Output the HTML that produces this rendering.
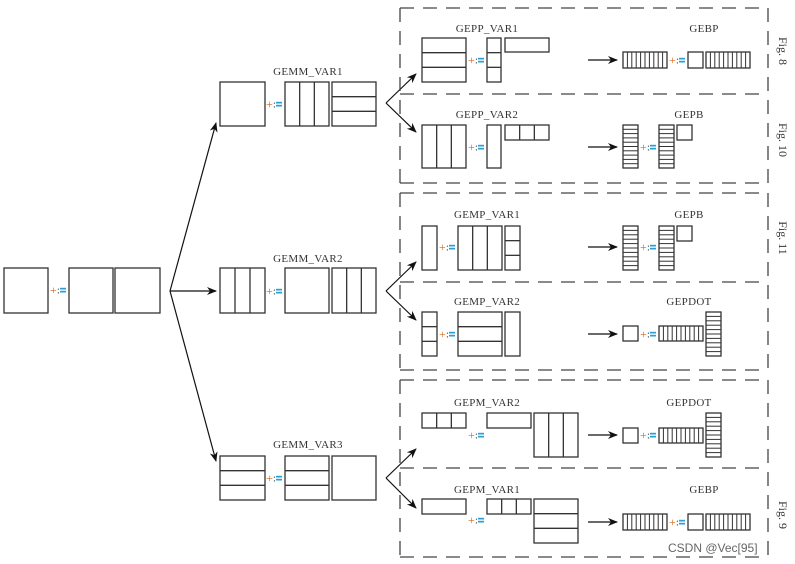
<!DOCTYPE html>
<html><head><meta charset="utf-8">
<style>
html,body{margin:0;padding:0;background:#fff;}
svg{display:block;}
text{font-family:"Liberation Serif",serif;}
text.wm{font-family:"Liberation Sans",sans-serif;}
</style></head>
<body>
<svg id="s" width="795" height="564" viewBox="0 0 795 564" xmlns="http://www.w3.org/2000/svg">
<defs>
<marker id="ah" markerWidth="10" markerHeight="8" refX="9" refY="4" orient="auto" markerUnits="userSpaceOnUse">
<path d="M0,0 L10,4 L0,8 L3,4 z" fill="#111"/>
</marker>
</defs>
<g id="g"></g>
</svg>
<script>
var g=document.getElementById('g');var NS='http://www.w3.org/2000/svg';
function el(t,a,txt){var e=document.createElementNS(NS,t);for(var k in a)e.setAttribute(k,a[k]);if(txt!==undefined)e.textContent=txt;g.appendChild(e);return e;}
function box(x1,y1,x2,y2){el('rect',{x:x1,y:y1,width:x2-x1,height:y2-y1,fill:'none',stroke:'#333','stroke-width':1.3});}
function line(x1,y1,x2,y2,w){el('line',{x1:x1,y1:y1,x2:x2,y2:y2,stroke:'#333','stroke-width':w||1.3});}
function cols(x1,y1,x2,y2,n,w){box(x1,y1,x2,y2);for(var i=1;i<n;i++){var x=x1+(x2-x1)*i/n;line(x,y1,x,y2,w);}}
function rows(x1,y1,x2,y2,n,w){box(x1,y1,x2,y2);for(var i=1;i<n;i++){var y=y1+(y2-y1)*i/n;line(x1,y,x2,y,w);}}
function pe(x,y){
 el('text',{x:x+1,y:y+4,'font-size':12,fill:'#d2691e'},'+');
 el('text',{x:x+8,y:y+3.5,'font-size':10,fill:'#333'},':');
 el('rect',{x:x+11,y:y-2.2,width:6,height:1.7,fill:'#2a9fd6'});
 el('rect',{x:x+11,y:y+0.8,width:6,height:1.7,fill:'#2a9fd6'});
}
function lbl(x,y,t){el('text',{x:x,y:y,'font-size':11,'text-anchor':'middle',fill:'#333','letter-spacing':'0.3'},t);}
function arr(x1,y1,x2,y2){el('line',{x1:x1,y1:y1,x2:x2,y2:y2,stroke:'#111','stroke-width':1.2,'marker-end':'url(#ah)'});}
function dash(x1,y1,x2,y2){el('line',{x1:x1,y1:y1,x2:x2,y2:y2,stroke:'#444','stroke-width':1.3,'stroke-dasharray':'14,9'});}

box(4,268,48,313);pe(49,290);box(69,268,113,313);box(115,268,160,313);
arr(170,291,216,123);arr(170,291,216,291);arr(170,291,216,461);

lbl(308,75,'GEMM_VAR1');
box(220,82,265,126);pe(265,104);cols(285,82,329,126,3);rows(332,82,376,126,3);
lbl(308,262,'GEMM_VAR2');
cols(220,268,265,313,3);pe(265,291);box(285,268,329,313);cols(332,268,376,313,3);
lbl(308,448,'GEMM_VAR3');
rows(220,456,265,500,3);pe(265,478);rows(285,456,329,500,3);box(332,456,376,500);

[[103,74,132],[291,262,320],[478,449,508]].forEach(function(b){
 arr(386,b[0],416,b[1]);arr(386,b[0],416,b[2]);});

[[8,94,183],[193,282,370],[380,468,557]].forEach(function(f){
 dash(400,f[0],768,f[0]);dash(400,f[1],768,f[1]);dash(400,f[2],768,f[2]);
 dash(400,f[0],400,f[2]);dash(768,f[0],768,f[2]);
});

function fig(y,t){el('text',{x:0,y:0,'font-size':12,fill:'#333','text-anchor':'middle',transform:'translate(779,'+y+') rotate(90)'},t);}
fig(51,'Fig. 8');fig(140,'Fig. 10');fig(238,'Fig. 11');fig(515,'Fig. 9');

lbl(487,32,'GEPP_VAR1');
rows(422,38,466,82,3);pe(467,60);rows(487,38,501,82,3);box(505,38,549,52);
arr(588,60,617,60);
lbl(704,32,'GEBP');
cols(623,52,667,68,10,1);pe(668,60);box(688,52,703,68);cols(706,52,750,68,10,1);

lbl(487,118,'GEPP_VAR2');
cols(422,125,466,168,3);pe(467,147);box(487,125,501,168);cols(505,125,549,140,3);
arr(588,147,617,147);
lbl(689,118,'GEPB');
rows(623,125,638,168,10,1);pe(639,147);rows(659,125,674,168,10,1);box(677,125,692,140);

lbl(487,218,'GEMP_VAR1');
box(422,226,437,270);pe(438,247);cols(458,226,502,270,3);rows(505,226,520,270,3);
arr(588,247,617,247);
lbl(689,218,'GEPB');
rows(623,226,638,270,10,1);pe(639,247);rows(659,226,674,270,10,1);box(677,226,692,241);

lbl(487,305,'GEMP_VAR2');
rows(422,312,437,356,3);pe(438,334);rows(458,312,502,356,3);box(505,312,520,356);
arr(588,334,617,334);
lbl(689,305,'GEPDOT');
box(623,326,638,341);pe(639,334);cols(659,326,703,341,10,1);rows(706,312,721,356,10,1);

lbl(487,406,'GEPM_VAR2');
cols(422,413,466,428,3);pe(467,435);box(487,413,531,428);cols(534,413,578,457,3);
arr(588,435,617,435);
lbl(689,406,'GEPDOT');
box(623,428,638,443);pe(639,435);cols(659,428,703,443,10,1);rows(706,413,721,457,10,1);

lbl(487,493,'GEPM_VAR1');
box(422,499,466,514);pe(467,520);cols(487,499,531,514,3);rows(534,499,578,543,3);
arr(588,522,617,522);
lbl(704,493,'GEBP');
cols(623,514,667,530,10,1);pe(668,522);box(688,514,703,530);cols(706,514,750,530,10,1);

el('text',{'class':'wm',x:668,y:552,'font-size':12,fill:'#666'},'CSDN @Vec[95]');
</script>
</body></html>
